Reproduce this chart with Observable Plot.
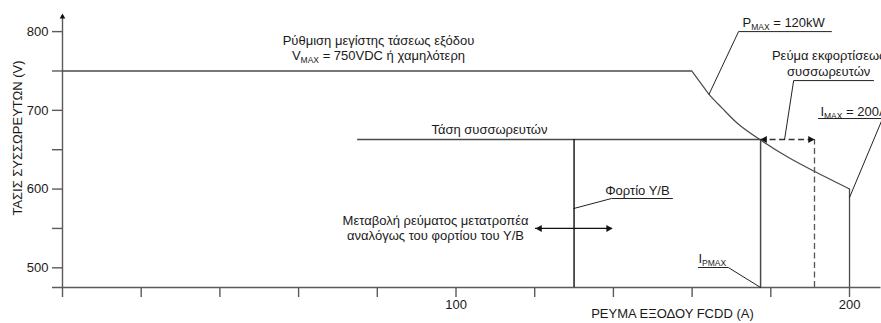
<!DOCTYPE html>
<html><head><meta charset="utf-8">
<script src="https://cdn.jsdelivr.net/npm/d3@7"></script>
<script src="https://cdn.jsdelivr.net/npm/@observablehq/plot@0.6"></script>
<style>
html,body{margin:0;padding:0;background:#fff;}
#chart svg{display:block;}
</style></head><body><div id="chart"></div>
<script>
// ---------- data (current in A, voltage in V) ----------
const vMax = 750;
const vMaxSegmentI = [0, 160];
const powerCurveI = [159.9, 162.1, 164.3, 167.5, 171.8, 177.3, 184.5, 191.3, 200];
const powerCurveV = [750, 735.3, 720.4, 703.5, 682.3, 662.5, 640, 621.9, 600];
const batteryV = 663;
const batterySegmentI = [75, 177.4];
const iPMax = 177.4;
const loadI = 130;
const dischargeI = 191.1;
const iMax = 200;
const iMaxTopV = 600;
const converterRangeI = [120.2, 139.8];
const converterRangeV = 550;
const axisMinV = 475;
const axisMaxV = 823;
const axisMaxI = 208;
const xTicks = [0, 20, 40, 60, 80, 100, 120, 140, 160, 180, 200];
const xTickLabels = {100: "100", 200: "200"};
const yTicks = [500, 550, 600, 650, 700, 750, 800];
const yTickLabels = {500: "500", 600: "600", 700: "700", 800: "800"};

// annotation texts and anchor points (data units)
const labelTexts = [
  "Ρύθμιση μεγίστης τάσεως εξόδου\nV_{MAX} = 750VDC ή χαμηλότερη",
  "Τάση συσσωρευτών",
  "Φορτίο Υ/Β",
  "Μεταβολή ρεύματος μετατροπέα\nαναλόγως του φορτίου του Υ/Β",
  "I_{PMAX}",
  "P_{MAX} = 120kW",
  "Ρεύμα εκφορτίσεως\nσυσσωρευτών",
  "I_{MAX} = 200A"
];
const labelI = [80.3, 108.5, 146.1, 94.8, 161.6, 172.8, 194.7, 192.6];
const labelV = [764.5, 670.5, 593, 534.7, 505.5, 806.3, 744.1, 693.4];
const labelAnchor = ["middle", "middle", "middle", "middle", "start", "start", "middle", "start"];
const labelLineHeight = [1.15, 1, 1, 1.23, 1, 1, 1.23, 1];

// leader lines (callouts)
const leaderPMaxI = [164.3, 171.8, 195.4], leaderPMaxV = [720.4, 800, 800];
const leaderDischI = [183.5, 185.8, 206.1], leaderDischV = [663, 737.8, 737.8];
const leaderIMaxI = [200, 208.4, 192.1], leaderIMaxV = [589.3, 689.6, 689.6];
const leaderLoadI = [129.9, 139.5, 155], leaderLoadV = [575.3, 588, 588];
const leaderIPMaxI = [177.4, 169.2, 161.6], leaderIPMaxV = [475, 500.4, 500.4];

const xAxisTitle = "ΡΕΥΜΑ ΕΞΟΔΟΥ FCDD (A)";
const yAxisTitle = "ΤΑΣΙΣ ΣΥΣΣΩΡΕΥΤΩΝ (V)";

// ---------- build tables ----------
const curve = powerCurveI.map((I, i) => ({I, V: powerCurveV[i]}));
const labels = labelTexts.map((t, i) => ({t, I: labelI[i], V: labelV[i], a: labelAnchor[i], lh: labelLineHeight[i]}));
const leaders = [];
[[leaderPMaxI, leaderPMaxV], [leaderDischI, leaderDischV], [leaderIMaxI, leaderIMaxV],
 [leaderLoadI, leaderLoadV], [leaderIPMaxI, leaderIPMaxV]].forEach(([xs, vs], k) =>
  xs.forEach((I, i) => leaders.push({k, I, V: vs[i]})));

const ink = "#1a1a1a";
const lineCol = "#4a4a4a";
const axisCol = "#5a5a5a";
const font = "'Liberation Sans', Arial, Helvetica, sans-serif";
const s = 4.2; // arrowhead tip offset in px

const textMarks = [...new Set(labels.map(d => d.a + "|" + d.lh))].map(key => {
  const [a, lh] = key.split("|");
  return Plot.text(labels.filter(d => d.a + "|" + d.lh === key), {
    x: "I", y: "V", text: "t", textAnchor: a, lineAnchor: "bottom",
    lineHeight: +lh, fontSize: 13, fill: ink
  });
});

const plot = Plot.plot({
  width: 881, height: 323,
  marginLeft: 62, marginRight: 0.5, marginTop: 13, marginBottom: 36,
  x: {domain: [0, axisMaxI]},
  y: {domain: [axisMinV, axisMaxV]},
  style: {fontFamily: font, fontSize: "13px", background: "#fff", color: ink},
  marks: [
    // axes
    Plot.axisX({ticks: xTicks, tickSize: 10, tickPadding: 2, tickFormat: d => xTickLabels[d] ?? "", label: null, stroke: axisCol, fill: ink, strokeWidth: 1.4}),
    Plot.axisY({ticks: yTicks, tickSize: 10, tickPadding: 4, tickFormat: d => yTickLabels[d] ?? "", label: null, stroke: axisCol, fill: ink, strokeWidth: 1.4}),
    Plot.ruleY([axisMinV], {x1: -10 * axisMaxI / 818.5, x2: axisMaxI, stroke: axisCol, strokeWidth: 1.4}),
    Plot.ruleX([0], {y1: axisMinV, y2: axisMaxV - 3, stroke: axisCol, strokeWidth: 1.4}),
    Plot.dot([0], {x: d => d, y: () => axisMaxV, symbol: "triangle2", r: 2.7, fill: "#111", stroke: null, dy: 3.3}),

    // V max plateau
    Plot.ruleY([vMax], {x1: vMaxSegmentI[0], x2: vMaxSegmentI[1], stroke: lineCol, strokeWidth: 1.5}),
    // P max curve
    Plot.line(curve, {x: "I", y: "V", curve: "catmull-rom", stroke: lineCol, strokeWidth: 1.2}),
    // I max vertical
    Plot.ruleX([iMax], {y1: axisMinV, y2: iMaxTopV, stroke: lineCol, strokeWidth: 1.3}),
    // battery voltage
    Plot.ruleY([batteryV], {x1: batterySegmentI[0], x2: batterySegmentI[1], stroke: lineCol, strokeWidth: 1.5}),
    // I_PMAX vertical
    Plot.ruleX([iPMax], {y1: axisMinV, y2: batteryV, stroke: lineCol, strokeWidth: 1.5}),
    // load vertical
    Plot.ruleX([loadI], {y1: axisMinV, y2: batteryV, stroke: "#111", strokeWidth: 1.4}),
    // discharge current (dashed)
    Plot.ruleY([batteryV], {x1: iPMax, x2: dischargeI, stroke: "#333", strokeWidth: 1.3, strokeDasharray: "6,3.5"}),
    Plot.ruleX([dischargeI], {y1: axisMinV, y2: batteryV, stroke: "#555", strokeWidth: 1.3, strokeDasharray: "6,3.5"}),
    Plot.dot([iPMax], {x: d => d, y: () => batteryV, symbol: "triangle2", r: 3.4, rotate: -90, dx: s, fill: "#111", stroke: null}),
    Plot.dot([dischargeI], {x: d => d, y: () => batteryV, symbol: "triangle2", r: 3.4, rotate: 90, dx: -s, fill: "#111", stroke: null}),
    // converter current range double arrow
    Plot.ruleY([converterRangeV], {x1: converterRangeI[0], x2: converterRangeI[1], stroke: "#111", strokeWidth: 1.2}),
    Plot.dot([converterRangeI[0]], {x: d => d, y: () => converterRangeV, symbol: "triangle2", r: 3.4, rotate: -90, dx: s, fill: "#111", stroke: null}),
    Plot.dot([converterRangeI[1]], {x: d => d, y: () => converterRangeV, symbol: "triangle2", r: 3.4, rotate: 90, dx: -s, fill: "#111", stroke: null}),

    // leader lines
    Plot.line(leaders, {x: "I", y: "V", z: "k", stroke: "#222", strokeWidth: 1}),

    // annotation text
    ...textMarks,

    // axis titles
    Plot.text([xAxisTitle], {x: () => 155, frameAnchor: "bottom", text: d => d, lineAnchor: "bottom", dy: 30.5, fontSize: 13, fill: ink}),
    Plot.text([yAxisTitle], {frameAnchor: "left", text: d => d, textAnchor: "middle", lineAnchor: "middle", rotate: -90, dx: -44.5, dy: -12.5, fontSize: 13, fill: ink})
  ]
});

// subscripts: "X_{SUB}" -> tspan
(function applySubscripts(svg) {
  const nodes = [...svg.querySelectorAll("text, tspan")].filter(n => n.children.length === 0 && /_\{/.test(n.textContent));
  for (const n of nodes) {
    const parts = n.textContent.split(/_\{([^}]*)\}/);
    n.textContent = "";
    parts.forEach((p, i) => {
      if (!p && i % 2 === 0 && i > 0 && i === parts.length - 1) return;
      const t = document.createElementNS("http://www.w3.org/2000/svg", "tspan");
      t.textContent = p;
      if (i % 2 === 1) { t.setAttribute("font-size", "8.5"); t.setAttribute("dy", "3"); }
      else if (i > 0) { t.setAttribute("dy", "-3"); }
      n.appendChild(t);
    });
  }
})(plot);

document.getElementById("chart").appendChild(plot);
</script>
</body></html>
